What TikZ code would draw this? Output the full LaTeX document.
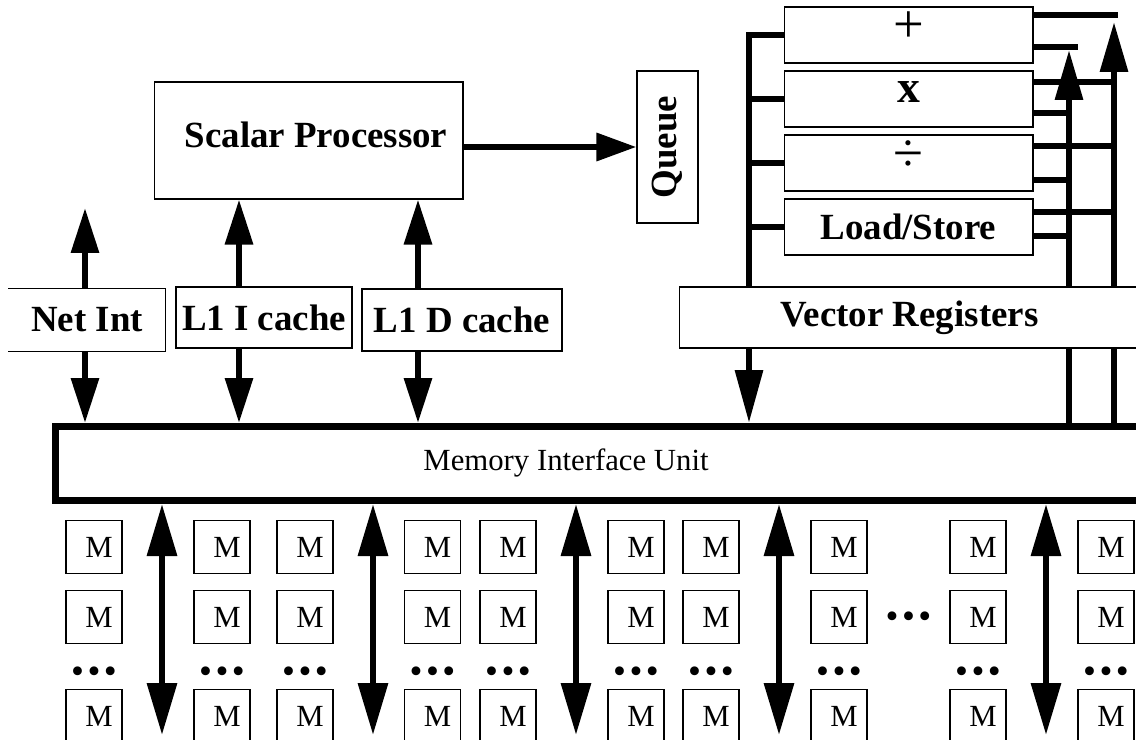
\documentclass[tikz,border=0pt]{standalone}
\usepackage{fontspec}
\setmainfont{Liberation Serif}
\usetikzlibrary{positioning}
\usetikzlibrary{arrows.meta}
\usetikzlibrary{calc}

\begin{document}
\begin{tikzpicture}[
        x = 0.02cm, y = -0.02cm,
        box/.style = {
            draw,
            fill = white,
            line width = 0.6pt,
            inner sep = 0pt,
            font = \fontsize{21}{25}\selectfont\bfseries
        },
        fu/.style = {box, minimum width = 4.98cm, minimum height = 1.12cm},
        symb/.style = {inner sep = 0pt, font = \fontsize{31}{34}\selectfont},
        mem/.style = {
            draw,
            line width = 0.6pt,
            minimum width = 1.12cm,
            minimum height = 1.06cm,
            inner sep = 0pt,
            execute at begin node = \hspace{0.2cm},
            font = \fontsize{17.5}{20}\selectfont
        },
        memdots/.style = {inner sep = 0pt, yshift = -0.07cm, font = \fontsize{21}{24}\selectfont},
        bus/.style = {line width = 3.6pt},
        arr/.style = {bus, -{Triangle[length = #1, width = 0.54cm]}},
        arr/.default = 0.9cm,
        memarr/.style = {bus, {Triangle[length = 1.04cm, width = 0.58cm]}-{Triangle[length = 1.04cm, width = 0.58cm]}}
        ]
        \useasboundingbox (0,0) rectangle (1136,740);
        \clip (0,0) rectangle (1136,740);
%
        \node[box, minimum width = 6.18cm, minimum height = 2.34cm] (scalar) at (308.5,140.5) {\hspace{0.3cm}Scalar Processor\rule[-0.24cm]{0pt}{0pt}};
        \node[box, minimum width = 1.22cm, minimum height = 3.04cm] (queue) at (667.5,147) {\rotatebox{90}{Queue}};
%
        \node[box, draw = none, minimum width = 3.12cm, minimum height = 1.24cm] (netint) at (87,320) {Net Int};
        \draw[line width = 0.6pt] (netint.north west) -- (netint.north east) -- (netint.south east) -- (netint.south west);
        \node[box, minimum width = 3.52cm, minimum height = 1.22cm] (l1i) at (264,317.5) {L1 I cache};
        \node[box, minimum width = 4cm, minimum height = 1.24cm] (l1d) at (462,320) {L1 D cache};
        \node[box, minimum width = 9.22cm, minimum height = 1.22cm] (vregs) at (909.5,317.5) {Vector Registers};
%
        \node[fu] (fadd) at (908.5,35) {};
        \node[fu] (fmul) at (908.5,99) {};
        \node[fu] (fdiv) at (908.5,163) {};
        \node[fu] (fls) at (908.5,227) {Load/Store};
        \node[symb, yshift = 0.16cm] (addlbl) at (fadd) {+};
        \node[symb, yshift = 0.14cm, font = \fontsize{26}{30}\selectfont\bfseries] (mullbl) at (fmul) {x};
        \node[symb, yshift = 0.14cm] (divlbl) at (fdiv) {÷};
%
        \node[draw, line width = 4pt, minimum width = 22.09cm, minimum height = 1.48cm] (miu) at (607.75,463.5) {};
        \node[font = \fontsize{17.5}{20}\selectfont] (miulabel) at (566,463) {Memory Interface Unit};
%
        \coordinate (nettip) at (85,208);
        \coordinate (iport) at (239,0);
        \coordinate (dport) at (418,0);
        \coordinate (lbus) at (749,0);
        \coordinate (rbusA) at (1069,50);
        \coordinate (rbusB) at (1114,22);
        \coordinate (barA) at (1078,47);
        \coordinate (barB) at (1118,15);
        \coordinate (dotrow) at (0,672);
%
        \draw[arr=0.8cm] (scalar.east |- queue.west) -- (queue.west);
        \draw[arr] (nettip |- netint.north) -- (nettip);
        \draw[arr] (nettip |- netint.south) -- (nettip |- miu.north);
        \draw[arr] (iport |- l1i.north) -- (iport |- scalar.south);
        \draw[arr] (iport |- l1i.south) -- (iport |- miu.north);
        \draw[arr] (dport |- l1d.north) -- (dport |- scalar.south);
        \draw[arr] (dport |- l1d.south) -- (dport |- miu.north);
%
        \draw[bus] (fadd.west) -| (lbus |- vregs.north);
        \draw[bus] (fmul.west) -- (fmul.west -| lbus);
        \draw[bus] (fdiv.west) -- (fdiv.west -| lbus);
        \draw[bus] (fls.west) -- (fls.west -| lbus);
        \draw[arr=1.06cm] (lbus |- vregs.south) -- (lbus |- miu.north);
%
        \draw[bus] (rbusA |- miu.north) -- (rbusA |- vregs.south);
        \draw[bus] (rbusB |- miu.north) -- (rbusB |- vregs.south);
        \draw[arr=1cm] (rbusA |- vregs.north) -- (rbusA);
        \draw[arr=1cm] (rbusB |- vregs.north) -- (rbusB);
        \draw[bus] (barB -| fadd.east) -- (barB);
        \draw[bus] (barA -| fadd.east) -- (barA);
        \draw[bus] ($(fmul.east)+(0,-17)$) coordinate (mulB) -- (mulB -| rbusB);
        \draw[bus] ($(fmul.east)+(0,14)$) coordinate (mulA) -- (mulA -| rbusA);
        \draw[bus] ($(fdiv.east)+(0,-17)$) coordinate (divB) -- (divB -| rbusB);
        \draw[bus] ($(fdiv.east)+(0,17)$) coordinate (divA) -- (divA -| rbusA);
        \draw[bus] ($(fls.east)+(0,-15)$) coordinate (lsB) -- (lsB -| rbusB);
        \draw[bus] ($(fls.east)+(0,9)$) coordinate (lsA) -- (lsA -| rbusA);
%
% memory banks
        \node[mem] (m1a) at (94,547) {M};
        \node[mem, below = 0.32cm of m1a] (m1b) {M};
        \node[memdots] (m1c) at (m1a |- dotrow) {\textbullet\kern2pt\textbullet\kern2pt\textbullet};
        \node[mem, below = 0.9cm of m1b] (m1d) {M};
%
        \node[mem] (m2a) at (222,547) {M};
        \node[mem, below = 0.32cm of m2a] (m2b) {M};
        \node[memdots] (m2c) at (m2a |- dotrow) {\textbullet\kern2pt\textbullet\kern2pt\textbullet};
        \node[mem, below = 0.9cm of m2b] (m2d) {M};
%
        \node[mem] (m3a) at (305,547) {M};
        \node[mem, below = 0.32cm of m3a] (m3b) {M};
        \node[memdots] (m3c) at (m3a |- dotrow) {\textbullet\kern2pt\textbullet\kern2pt\textbullet};
        \node[mem, below = 0.9cm of m3b] (m3d) {M};
%
        \node[mem] (m4a) at (432.5,547) {M};
        \node[mem, below = 0.32cm of m4a] (m4b) {M};
        \node[memdots] (m4c) at (m4a |- dotrow) {\textbullet\kern2pt\textbullet\kern2pt\textbullet};
        \node[mem, below = 0.9cm of m4b] (m4d) {M};
%
        \node[mem] (m5a) at (508,547) {M};
        \node[mem, below = 0.32cm of m5a] (m5b) {M};
        \node[memdots] (m5c) at (m5a |- dotrow) {\textbullet\kern2pt\textbullet\kern2pt\textbullet};
        \node[mem, below = 0.9cm of m5b] (m5d) {M};
%
        \node[mem] (m6a) at (636,547) {M};
        \node[mem, below = 0.32cm of m6a] (m6b) {M};
        \node[memdots] (m6c) at (m6a |- dotrow) {\textbullet\kern2pt\textbullet\kern2pt\textbullet};
        \node[mem, below = 0.9cm of m6b] (m6d) {M};
%
        \node[mem] (m7a) at (711,547) {M};
        \node[mem, below = 0.32cm of m7a] (m7b) {M};
        \node[memdots] (m7c) at (m7a |- dotrow) {\textbullet\kern2pt\textbullet\kern2pt\textbullet};
        \node[mem, below = 0.9cm of m7b] (m7d) {M};
%
        \node[mem] (m8a) at (839,547) {M};
        \node[mem, below = 0.32cm of m8a] (m8b) {M};
        \node[memdots] (m8c) at (m8a |- dotrow) {\textbullet\kern2pt\textbullet\kern2pt\textbullet};
        \node[mem, below = 0.9cm of m8b] (m8d) {M};
%
        \node[mem] (m9a) at (978,547) {M};
        \node[mem, below = 0.32cm of m9a] (m9b) {M};
        \node[memdots] (m9c) at (m9a |- dotrow) {\textbullet\kern2pt\textbullet\kern2pt\textbullet};
        \node[mem, below = 0.9cm of m9b] (m9d) {M};
%
        \node[mem] (m10a) at (1106,547) {M};
        \node[mem, below = 0.32cm of m10a] (m10b) {M};
        \node[memdots] (m10c) at (m10a |- dotrow) {\textbullet\kern2pt\textbullet\kern2pt\textbullet};
        \node[mem, below = 0.9cm of m10b] (m10d) {M};
%
        \node[memdots] (mgap) at ($(m8b)!0.5!(m9b)$) {\textbullet\kern2pt\textbullet\kern2pt\textbullet};
%
        \coordinate (mtip1) at (162,735);
        \coordinate (mtip2) at (373,735);
        \coordinate (mtip3) at (576,735);
        \coordinate (mtip4) at (779,735);
        \coordinate (mtip5) at (1046,735);
        \draw[memarr] (mtip1 |- miu.south) -- (mtip1);
        \draw[memarr] (mtip2 |- miu.south) -- (mtip2);
        \draw[memarr] (mtip3 |- miu.south) -- (mtip3);
        \draw[memarr] (mtip4 |- miu.south) -- (mtip4);
        \draw[memarr] (mtip5 |- miu.south) -- (mtip5);
    \end{tikzpicture}
\end{document}
